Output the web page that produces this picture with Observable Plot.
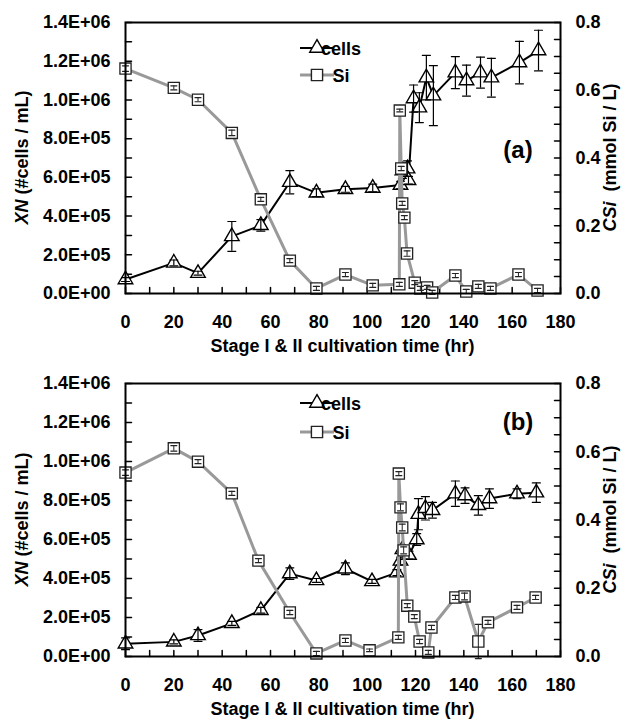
<!DOCTYPE html>
<html><head><meta charset="utf-8">
<script src="https://cdn.jsdelivr.net/npm/d3@7"></script>
<script src="https://cdn.jsdelivr.net/npm/@observablehq/plot@0.6"></script>
<style>
body{margin:0;background:#fff;}
#chart{width:632px;}
svg{display:block;}
</style></head><body><div id="chart"></div>
<script>
// ---------- Panel (a) ----------
const cellsTimeA = [0, 20, 30, 44, 56, 68, 79, 91, 102.3, 113.8, 114.6, 116.7, 117.1, 119.2, 121.6, 124.5, 127.4, 136.5, 141.1, 146.9, 151.4, 163, 170.9];
const cellsA     = [7.2e4, 1.58e5, 1.05e5, 2.95e5, 3.52e5, 5.75e5, 5.2e5, 5.38e5, 5.45e5, 5.6e5, 6.35e5, 6.45e5, 5.85e5, 1.007e6, 9.6e5, 1.115e6, 1.022e6, 1.141e6, 1.1e6, 1.141e6, 1.115e6, 1.193e6, 1.255e6];
const cellsErrA  = [1e4, 1.5e4, 1e4, 7.7e4, 3e4, 6e4, 2e4, 1.5e4, 2e4, 2e4, 4e4, 4e4, 2e4, 7e4, 7.7e4, 1.15e5, 1.55e5, 8.3e4, 8e4, 8e4, 1e5, 1.1e5, 1.05e5];
const siTimeA = [0, 20, 30, 44, 56, 68, 79, 91, 102.3, 113.3, 113.5, 114.1, 114.5, 115.4, 116.5, 119.7, 122, 124.8, 126.9, 136.5, 141, 146, 151, 162.6, 170.5];
const siA     = [0.664, 0.607, 0.572, 0.474, 0.278, 0.097, 0.015, 0.056, 0.024, 0.027, 0.540, 0.369, 0.266, 0.224, 0.118, 0.032, 0.015, 0.018, 0.003, 0.053, 0.006, 0.021, 0.015, 0.056, 0.009];
const siErrA  = [0.008, 0.006, 0.006, 0.008, 0.006, 0.006, 0.006, 0.006, 0.006, 0.006, 0.004, 0.006, 0.006, 0.006, 0.008, 0.006, 0.006, 0.006, 0.006, 0.006, 0.006, 0.006, 0.006, 0.006, 0.006];

// ---------- Panel (b) ----------
const cellsTimeB = [0, 20, 30, 44, 56, 68, 79, 91, 102, 112.3, 113.8, 114.6, 117.3, 120.5, 121.2, 124.1, 127, 136.5, 140.5, 146, 150.6, 162, 170];
const cellsB     = [6.5e4, 7.5e4, 1.08e5, 1.7e5, 2.37e5, 4.25e5, 3.9e5, 4.5e5, 3.85e5, 4.3e5, 4.9e5, 5.5e5, 5.2e5, 6.0e5, 7.3e5, 7.6e5, 7.5e5, 8.35e5, 8.25e5, 7.75e5, 8.1e5, 8.35e5, 8.4e5];
const cellsErrB  = [3e4, 1e4, 3e4, 1e4, 1.5e4, 3e4, 1e4, 3e4, 1e4, 1.5e4, 2e4, 2e4, 2e4, 3e4, 8e4, 6e4, 4e4, 6.5e4, 4e4, 5e4, 5e4, 2.5e4, 5e4];
const siTimeB = [0, 20, 30, 44, 55, 68, 79, 91, 101, 112.9, 113.1, 113.8, 114.5, 115.1, 116.6, 119.5, 121.7, 125.3, 126.6, 136.5, 140.3, 146, 150, 162, 169.7];
const siB     = [0.539, 0.610, 0.571, 0.478, 0.281, 0.129, 0.009, 0.047, 0.018, 0.056, 0.536, 0.437, 0.378, 0.311, 0.149, 0.117, 0.044, 0.012, 0.085, 0.173, 0.176, 0.044, 0.100, 0.144, 0.173];
const siErrB  = [0.008, 0.008, 0.006, 0.006, 0.006, 0.006, 0.006, 0.006, 0.004, 0.006, 0.006, 0.01, 0.01, 0.01, 0.006, 0.006, 0.006, 0.006, 0.006, 0.006, 0.01, 0.05, 0.006, 0.006, 0.006];

// ---------- Axes ----------
const xTickLabels = [0, 20, 40, 60, 80, 100, 120, 140, 160, 180];
const xMinorTicks = d3.range(0, 181, 10);
const leftTickLabels = [0, 2e5, 4e5, 6e5, 8e5, 1e6, 1.2e6, 1.4e6];
const leftMinorTicks = d3.range(0, 1.4e6 + 1, 1e5);
const rightTickLabels = [0, 0.2, 0.4, 0.6, 0.8];
const rightMinorTicks = d3.range(0, 0.801, 0.05);
const xTitle = "Stage I & II cultivation time (hr)";
const seriesNames = ["cells", "Si"];

const XMAX = 180, YMAX = 1.4e6, RMAX = 0.8;
const K = YMAX / RMAX;
const FONT = "'Liberation Sans', Arial, sans-serif";

function sci(v) {
  return v.toExponential(1).toUpperCase().replace(/E([+-])(\d)$/, "E$10$2");
}

function panel(o) {
  const cells = o.cellsT.map((t, i) => ({t, v: o.cellsV[i], lo: o.cellsV[i] - o.cellsE[i], hi: o.cellsV[i] + o.cellsE[i]}));
  const si = o.siT.map((t, i) => ({t, v: o.siV[i] * K, lo: (o.siV[i] - o.siE[i]) * K, hi: (o.siV[i] + o.siE[i]) * K}));
  const tick = {length: 6, r: 0, stroke: "#000", strokeWidth: 1.5, anchor: "start"};
  const cap = {length: 8, r: 0, rotate: 90, anchor: "middle", strokeWidth: 1.2};
  const svg = Plot.plot({
    width: 632,
    height: o.height,
    marginLeft: 125,
    marginRight: 72,
    marginTop: o.marginTop,
    marginBottom: o.marginBottom,
    style: {fontFamily: FONT, fontSize: "18px", fontWeight: "bold", color: "#000", background: "#fff", overflow: "visible"},
    x: {domain: [0, XMAX]},
    y: {domain: [0, YMAX]},
    marks: [
      Plot.axisY({ticks: leftTickLabels, tickFormat: sci, tickSize: 0, tickPadding: 15, label: null}),
      Plot.axisY({anchor: "right", ticks: rightTickLabels.map(v => v * K), tickFormat: d => (d / K).toFixed(1), tickSize: 0, tickPadding: 15, label: null}),
      Plot.axisX({ticks: xTickLabels, tickFormat: d => String(d), tickSize: 0, tickPadding: 22, label: null}),
      Plot.vector(leftMinorTicks, {y: d => d, frameAnchor: "left", rotate: 90, ...tick}),
      Plot.vector(rightMinorTicks.map(v => v * K), {y: d => d, frameAnchor: "right", rotate: -90, ...tick}),
      Plot.vector(xMinorTicks, {x: d => d, frameAnchor: "bottom", rotate: 0, ...tick}),
      // cells
      Plot.line(cells, {x: "t", y: "v", stroke: "#000", strokeWidth: 2}),
      Plot.dot(cells, {x: "t", y: "v", symbol: "triangle", r: 5.4, fill: "#fff", stroke: "#000", strokeWidth: 1.4}),
      Plot.ruleX(cells, {x: "t", y1: "lo", y2: "hi", stroke: "#000", strokeWidth: 1.2}),
      Plot.vector(cells, {x: "t", y: "hi", stroke: "#000", ...cap}),
      Plot.vector(cells, {x: "t", y: "lo", stroke: "#000", ...cap}),
      // Si
      Plot.line(si, {x: "t", y: "v", stroke: "#999", strokeWidth: 3}),
      Plot.dot(si, {x: "t", y: "v", symbol: "square", r: 6.3, fill: "#fff", stroke: "#222", strokeWidth: 1.3}),
      Plot.ruleX(si, {x: "t", y1: "lo", y2: "hi", stroke: "#222", strokeWidth: 1}),
      Plot.vector(si, {x: "t", y: "hi", stroke: "#222", ...cap, length: 6}),
      Plot.vector(si, {x: "t", y: "lo", stroke: "#222", ...cap, length: 6}),
      Plot.frame({stroke: "#000", strokeWidth: 2})
    ]
  });
  const s = d3.select(svg);
  const top = o.marginTop, bottom = o.height - o.marginBottom, cy = (top + bottom) / 2;
  // left title
  const lt = s.append("text").attr("transform", `translate(28,${cy}) rotate(-90)`).attr("text-anchor", "middle")
    .attr("font-family", FONT).attr("font-size", 18).attr("font-weight", "bold").attr("fill", "#000");
  lt.append("tspan").attr("font-style", "italic").text("XN");
  lt.append("tspan").text(" (#cells / mL)");
  // right title
  const rt = s.append("text").attr("transform", `translate(616,${cy}) rotate(-90)`).attr("text-anchor", "middle")
    .attr("font-family", FONT).attr("font-size", 18).attr("font-weight", "bold").attr("fill", "#000");
  rt.append("tspan").attr("font-style", "italic").text("CSi");
  rt.append("tspan").text("  (mmol Si / L)");
  // x title
  s.append("text").attr("x", 342.5).attr("y", bottom + 59).attr("text-anchor", "middle")
    .attr("font-family", FONT).attr("font-size", 18).attr("font-weight", "bold").attr("fill", "#000").text(xTitle);
  // panel tag
  s.append("text").attr("x", 518).attr("y", o.tagY).attr("text-anchor", "middle")
    .attr("font-family", FONT).attr("font-size", 24).attr("font-weight", "bold").attr("fill", "#000").text(o.tag);
  // legend
  const lg = s.append("g");
  const rows = [
    {name: seriesNames[0], y: o.legendY[0], line: "#000", lw: 2, sym: d3.symbolTriangle, size: Math.PI * 5.4 * 5.4, ss: "#000"},
    {name: seriesNames[1], y: o.legendY[1], line: "#999", lw: 3, sym: d3.symbolSquare, size: Math.PI * 6.3 * 6.3, ss: "#222"}
  ];
  for (const r of rows) {
    lg.append("line").attr("x1", 300).attr("x2", 334).attr("y1", r.y).attr("y2", r.y).attr("stroke", r.line).attr("stroke-width", r.lw);
    lg.append("path").attr("d", d3.symbol(r.sym, r.size)()).attr("transform", `translate(317,${r.y})`)
      .attr("fill", "#fff").attr("stroke", r.ss).attr("stroke-width", 1.4);
    lg.append("text").attr("x", 341).attr("y", r.y + 6.5).attr("font-family", FONT).attr("font-size", 18)
      .attr("font-weight", "bold").attr("fill", "#000").text(r.name);
  }
  return svg;
}

const chart = document.getElementById("chart");
chart.appendChild(panel({
  cellsT: cellsTimeA, cellsV: cellsA, cellsE: cellsErrA,
  siT: siTimeA, siV: siA, siE: siErrA,
  height: 360, marginTop: 22, marginBottom: 67,
  tag: "(a)", tagY: 158, legendY: [48, 75]
}));
chart.appendChild(panel({
  cellsT: cellsTimeB, cellsV: cellsB, cellsE: cellsErrB,
  siT: siTimeB, siV: siB, siE: siErrB,
  height: 363, marginTop: 23, marginBottom: 67,
  tag: "(b)", tagY: 70, legendY: [43, 72]
}));
</script>
</body></html>
